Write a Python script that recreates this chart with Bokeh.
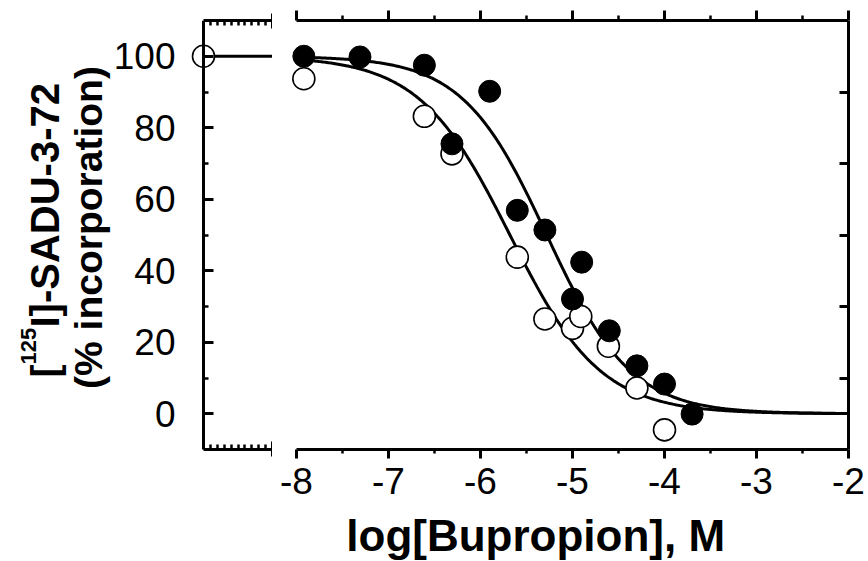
import numpy as np
from bokeh.plotting import figure
from bokeh.models import Range1d, LinearAxis, FixedTicker, Label
from bokeh.layouts import row
from bokeh.embed import file_html
from bokeh.resources import INLINE

# ---------------- data ----------------
control_x = [0.0]          # control (no drug), drawn in the left break panel
control_open = [100.0]

filled_logx = [-7.92, -7.31, -6.61, -6.31, -5.90, -5.60, -5.30, -5.00, -4.90, -4.60, -4.30, -4.00, -3.70]
filled_y = [100.0, 99.8, 97.5, 75.5, 90.2, 56.9, 51.4, 32.1, 42.4, 23.2, 13.4, 8.3, -0.1]

open_logx = [-7.92, -6.61, -6.31, -5.60, -5.30, -5.00, -4.91, -4.61, -4.30, -4.00]
open_y = [93.7, 83.2, 72.7, 43.8, 26.5, 23.9, 27.2, 18.9, 7.2, -4.5]

# fitted sigmoid parameters (top, bottom, logIC50, Hill slope)
filled_fit = [100.0, 0.0, -5.28, 0.95]
open_fit = [100.0, 0.0, -5.68, 0.88]

x_ticks = [-8, -7, -6, -5, -4, -3, -2]
x_tick_labels = ["-8", "-7", "-6", "-5", "-4", "-3", "-2"]
x_minor = [-7.5, -6.5, -5.5, -4.5, -3.5, -2.5]
y_ticks = [0, 20, 40, 60, 80, 100]
y_tick_labels = ["0", "20", "40", "60", "80", "100"]
y_minor = [10, 30, 50, 70, 90]
right_ticks = [10, 30, 50, 70, 90]
break_minor = [0.1, 0.2, 0.3, 0.4, 0.5, 0.6, 0.7, 0.8, 0.9]

x_title = "log[Bupropion], M"
y_title_1a = "["
y_title_1b = "125"
y_title_1c = "I]-SADU-3-72"
y_title_2 = "(% incorporation)"

FONT = "Liberation Sans"
H = 561
Y_TOP, Y_AX = 110, -10          # axis span of the y scale
PX_PER_Y = 429 / 120.0          # frame pixels per y unit
Y_LOW = Y_TOP - (H - 20) / PX_PER_Y   # frame reaches the canvas bottom (room for labels)
PX_PER_BREAK = 69.0             # width of the break panel (one unit)
PX_PER_DEC = 92.05
X_MIN, X_MAX = -8, -2


def sigmoid(x, p):
    top, bottom, c, n = p
    return bottom + (top - bottom) / (1.0 + 10.0 ** ((x - c) * n))


def style_axis(ax):
    ax.axis_line_width = 3
    ax.axis_line_color = "black"
    ax.major_tick_line_width = 3
    ax.minor_tick_line_width = 2.5
    ax.major_tick_line_color = "black"
    ax.minor_tick_line_color = "black"
    ax.major_label_text_font = FONT
    ax.major_label_text_color = "black"


def hide_labels(ax, ticks):
    ax.major_label_overrides = {t: "" for t in ticks}
    ax.major_label_text_font_size = "1px"
    ax.major_label_text_color = None
    ax.major_label_standoff = 0


# ---------------- left (break) panel ----------------
left = figure(width=272, height=H, x_range=Range1d(-203 / PX_PER_BREAK, 1), y_range=Range1d(Y_LOW, Y_TOP),
              x_axis_type=None, y_axis_type=None, output_backend="svg", toolbar_location=None,
              min_border_left=0, min_border_right=0, min_border_top=20, min_border_bottom=0)
left.outline_line_color = None
left.background_fill_color = "white"
left.border_fill_color = "white"

yax = LinearAxis(fixed_location=0, bounds=(Y_AX, Y_TOP),
                 ticker=FixedTicker(ticks=y_ticks, minor_ticks=y_minor))
style_axis(yax)
yax.major_tick_in = 10
yax.major_tick_out = 0
yax.minor_tick_in = 5
yax.minor_tick_out = 0
yax.major_label_text_font_size = "37px"
yax.major_label_standoff = 28
yax.major_label_overrides = {t: s for t, s in zip(y_ticks, y_tick_labels)}
left.add_layout(yax, "left")

ax_top = LinearAxis(bounds=(0, 1), ticker=FixedTicker(ticks=[1], minor_ticks=break_minor))
ax_bot = LinearAxis(bounds=(0, 1), fixed_location=Y_AX, ticker=FixedTicker(ticks=[1], minor_ticks=break_minor))
for ax, side in ((ax_top, "above"), (ax_bot, "below")):
    style_axis(ax)
    hide_labels(ax, [1])
    ax.major_tick_in = 8
    ax.major_tick_out = 7
    ax.minor_tick_in = 5
    ax.minor_tick_out = 0
    left.add_layout(ax, side)

left.line([control_x[0], 1], [filled_fit[0], filled_fit[0]], line_color="black", line_width=3)
left.scatter(control_x, control_open, size=22, fill_color="white", line_color="black", line_width=1.6)


def py(page_y):
    return Y_TOP - (page_y - 20) / PX_PER_Y


def px_left(page_x):
    return (page_x - 203) / PX_PER_BREAK


TITLE_PX = "39px"
for txt, xx, yy, fs in ((y_title_1a, 44, 377, TITLE_PX), (y_title_1b, 28, 364, "22px"),
                        (y_title_1c, 44, 327, "40px")):
    left.add_layout(Label(x=px_left(xx), y=py(yy), text=txt, angle=np.pi / 2,
                          text_align="left", text_baseline="middle", text_font=FONT,
                          text_font_size=fs, text_font_style="bold", text_color="black"))
left.add_layout(Label(x=px_left(88), y=py(227), text=y_title_2, angle=np.pi / 2,
                      text_align="center", text_baseline="middle", text_font=FONT,
                      text_font_size=TITLE_PX, text_font_style="bold", text_color="black"))

# ---------------- main panel ----------------
main = figure(width=596, height=H,
              x_range=Range1d(X_MIN - 24 / PX_PER_DEC, X_MAX + 20 / PX_PER_DEC), y_range=Range1d(Y_LOW, Y_TOP),
              x_axis_type=None, y_axis_type=None, output_backend="svg", toolbar_location=None,
              min_border_left=0, min_border_right=0, min_border_top=20, min_border_bottom=0)
main.outline_line_color = None
main.background_fill_color = "white"
main.border_fill_color = "white"

xb = LinearAxis(bounds=(X_MIN, X_MAX), fixed_location=Y_AX, ticker=FixedTicker(ticks=x_ticks, minor_ticks=x_minor))
style_axis(xb)
xb.major_tick_out = 9
xb.major_tick_in = 0
xb.minor_tick_out = 4
xb.minor_tick_in = 0
xb.major_label_text_font_size = "37px"
xb.major_label_standoff = 9
xb.major_label_overrides = {t: s for t, s in zip(x_ticks, x_tick_labels)}
main.add_layout(xb, "below")

xt = LinearAxis(bounds=(X_MIN, X_MAX), ticker=FixedTicker(ticks=x_ticks, minor_ticks=x_minor))
style_axis(xt)
hide_labels(xt, x_ticks)
xt.major_tick_out = 10
xt.major_tick_in = 0
xt.minor_tick_out = 5
xt.minor_tick_in = 0
main.add_layout(xt, "above")

yr = LinearAxis(bounds=(Y_AX, Y_TOP), fixed_location=X_MAX, ticker=FixedTicker(ticks=right_ticks, minor_ticks=[]))
style_axis(yr)
hide_labels(yr, right_ticks)
yr.major_tick_in = 9
yr.major_tick_out = 0
main.add_layout(yr, "right")

xs = np.linspace(X_MIN, X_MAX, 400)
main.line(xs, sigmoid(xs, open_fit), line_color="black", line_width=3)
main.line(xs, sigmoid(xs, filled_fit), line_color="black", line_width=3)

main.scatter(open_logx, open_y, size=22, fill_color="white", line_color="black", line_width=1.6)
main.scatter(filled_logx, filled_y, size=22, fill_color="black", line_color="black", line_width=1)

main.add_layout(Label(x=-5.40, y=py(535), text=x_title,
                      text_align="center", text_baseline="middle", text_font=FONT,
                      text_font_size="44px", text_font_style="bold", text_color="black"))

layout = row(left, main)
open("out.html", "w").write(file_html(layout, INLINE))
